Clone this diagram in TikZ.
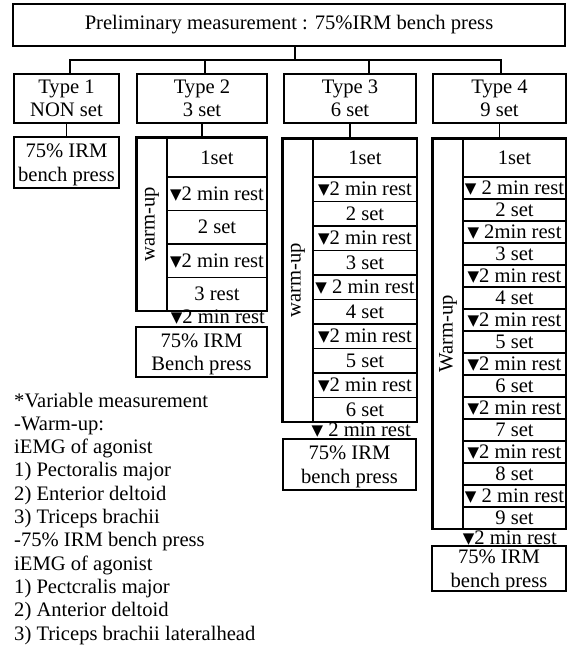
\documentclass[tikz,border=0pt]{standalone}
\usepackage{fontspec}
\setmainfont{Liberation Serif}
\newfontfamily\symfont{DejaVu Sans}
\newcommand\dn{\raisebox{1pt}{\symfont\fontsize{15pt}{15pt}\selectfont ▼}}
\newcommand\bigfont{\fontsize{20.6pt}{23.3pt}\selectfont}
\usetikzlibrary{positioning}

\begin{document}
\begin{tikzpicture}[x=1pt,y=-1pt,
  box/.style={draw,line width=1.3pt,inner sep=0pt,align=center,font=\bigfont},
  typebox/.style={box,minimum height=49pt},
  benchbox/.style={box,text depth=0pt},
  setrow/.style={box,line width=1.1pt},
  warm/.style={box,line width=1.8pt,minimum height=30pt,rotate=90},
  txt/.style={inner sep=0pt,font=\bigfont},
  link/.style={line width=1.2pt}]
  \useasboundingbox (0,0) rectangle (567,647);
  \node[box,minimum width=552pt,minimum height=42pt](top) at (289,25)
    {Preliminary measurement : 75\%IRM bench press};
  \node[typebox,minimum width=105pt](t1) at (66.5,98.5) {Type 1\\NON set};
  \node[typebox,minimum width=130pt](t2) at (202,98.5)  {Type 2\\3 set};
  \node[typebox,minimum width=132pt](t3) at (350,98.5)  {Type 3\\6 set};
  \node[typebox,minimum width=133pt](t4) at (499.5,98.5){Type 4\\9 set};
  \coordinate (J) at (295,60);
  \draw[link]([xshift=6pt]top.south)--(J);
  \draw[link]([xshift=3.5pt]t1.north)|-(J)-|([xshift=1.5pt]t4.north);
  \draw[link]([xshift=3pt]t2.north)--([xshift=3pt]t2.north|-J);
  \draw[link]([xshift=19pt]t3.north)--([xshift=19pt]t3.north|-J);
  % type 1
  \node[benchbox,minimum width=105pt,minimum height=51pt](b1) at (66.5,162.5) {75\% IRM\\bench press};
  \draw[link](t1.south)--(b1.north);
  % type 2
  \node[warm,minimum width=173pt](w2) at (152,224.5) {warm-up};
  \node[setrow,minimum width=100pt,minimum height=39pt](s2-0) at (217,157.5) {1set};
  \foreach \t [count=\i] in {\dn 2 min rest,2 set,\dn 2 min rest,3 rest}
    \node[setrow,minimum width=100pt,minimum height=33.5pt](s2-\i) at (217,177+33.5*\i-16.75) {\t};
  \draw[line width=1.8pt](w2.north east) rectangle (s2-4.south east);
  \node[txt,anchor=east](r2) at (265,317) {\dn 2 min rest};
  \node[benchbox,minimum width=131pt,minimum height=50pt](b2) at (201.5,352) {75\% IRM\\Bench press};
  \draw[link](t2.south)--(t2.south|-w2.east);
  % type 3
  \node[warm,minimum width=283pt](w3) at (298,280.5) {warm-up};
  \node[setrow,minimum width=104pt,minimum height=38pt](s3-0) at (365,158) {1set};
  \foreach \t [count=\i] in {\dn 2 min rest,2 set,\dn 2 min rest,3 set,\dn\ 2 min rest,
                             4 set,\dn 2 min rest,5 set,\dn 2 min rest,6 set}
    \node[setrow,minimum width=104pt,minimum height=24.5pt](s3-\i) at (365,177+24.5*\i-12.25) {\t};
  \draw[line width=1.8pt](w3.north east) rectangle (s3-10.south east);
  \node[txt,anchor=east](r3) at (411,430) {\dn\ 2 min rest};
  \node[benchbox,minimum width=133pt,minimum height=51pt](b3) at (349.5,464.5) {75\% IRM\\bench press};
  \draw[link](t3.south)--(t3.south|-w3.east);
  % type 4
  \node[warm,minimum width=390pt](w4) at (448,334) {Warm-up};
  \node[setrow,minimum width=103pt,minimum height=38pt](s4-0) at (514.5,158) {1set};
  \foreach \t [count=\i] in {\dn\ 2 min rest,2 set,\dn\ 2min rest,3 set,\dn 2 min rest,4 set,
                             \dn 2 min rest,5 set,\dn 2 min rest,6 set,\dn 2 min rest,7 set,
                             \dn 2 min rest,8 set,\dn\ 2 min rest,9 set}
    \node[setrow,minimum width=103pt,minimum height=22pt](s4-\i) at (514.5,177+22*\i-11) {\t};
  \draw[line width=1.8pt](w4.north east) rectangle (s4-16.south east);
  \node[txt,anchor=east](r4) at (557,538) {\dn 2 min rest};
  \node[benchbox,minimum width=134pt,minimum height=45pt](b4) at (499,568.5) {75\% IRM\\bench press};
  \draw[link](t4.south)--(t4.south|-w4.east);
  % variable measurement
  \foreach \t [count=\i] in {*Variable measurement,-Warm-up:,iEMG of agonist,1) Pectoralis major,
                             2) Enterior deltoid,3) Triceps brachii,-75\% IRM bench press,
                             iEMG of agonist,1) Pectcralis major,2) Anterior deltoid,
                             3) Triceps brachii lateralhead}
    \node[txt,anchor=base west](v\i) at (14,407+23.3*\i-23.3) {\t};
\end{tikzpicture}
\end{document}
